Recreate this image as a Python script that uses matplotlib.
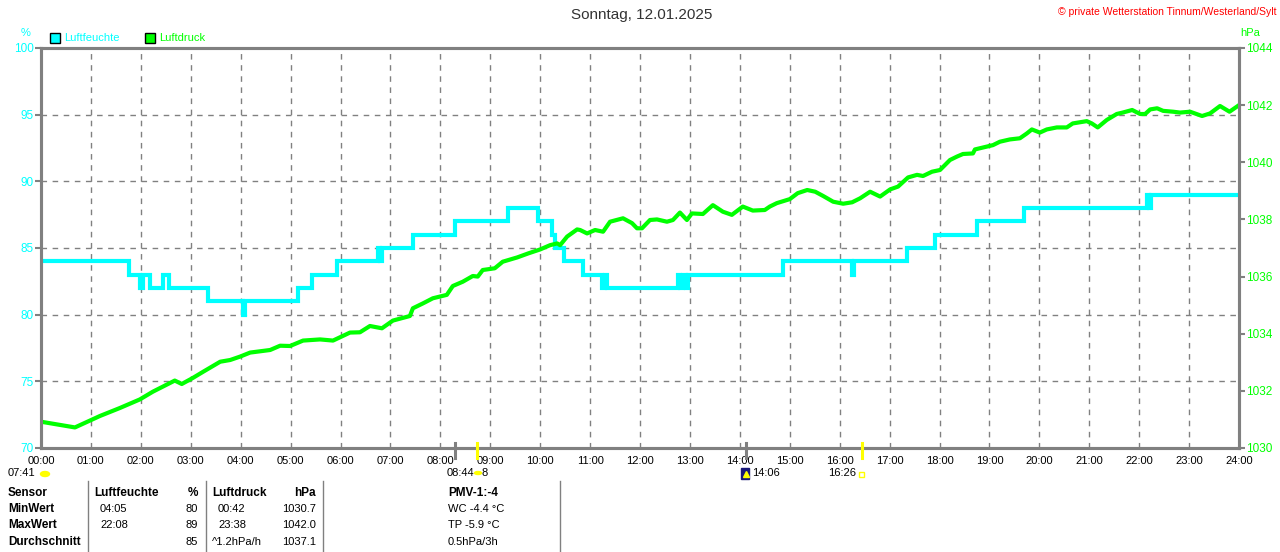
import matplotlib
matplotlib.use("Agg")
import matplotlib.pyplot as plt
from matplotlib.patches import Rectangle, Circle, Ellipse
from matplotlib.lines import Line2D

plt.rcParams['font.family'] = ['Liberation Sans', 'DejaVu Sans']

# Luftfeuchte (%), Stufen: Zeit in Stunden
hum_t = [0, 1.76, 1.98, 2.04, 2.19, 2.44, 2.56, 3.35, 4.05, 4.09,
         5.15, 5.43, 5.93, 6.75, 6.79, 6.83, 7.45, 8.29, 9.36, 9.96,
         10.24, 10.30, 10.48, 10.86, 11.24, 11.30, 11.34, 12.76, 12.80, 12.86,
         12.92, 12.96, 14.86, 16.25, 16.29, 17.35, 17.91, 18.75, 19.69, 22.16,
         22.20, 22.24, 24.0]
hum_v = [84, 83, 82, 83, 82, 83, 82, 81, 80, 81,
         82, 83, 84, 85, 84, 85, 86, 87, 88, 87,
         86, 85, 84, 83, 82, 83, 82, 83, 82, 83,
         82, 83, 84, 83, 84, 85, 86, 87, 88, 89,
         88, 89, 89]

# Luftdruck (hPa)
druck_t = [0.0, 0.68, 0.98, 1.18, 1.58, 1.98, 2.24, 2.68, 2.82, 3.04,
           3.25, 3.59, 3.79, 3.99, 4.19, 4.59, 4.79, 4.99, 5.25, 5.59,
           5.85, 6.19, 6.39, 6.59, 6.83, 7.05, 7.39, 7.45, 7.65, 7.85,
           8.13, 8.25, 8.45, 8.65, 8.75, 8.85, 9.09, 9.25, 9.54, 9.76,
           10.0, 10.2, 10.34, 10.4, 10.54, 10.74, 10.8, 10.94, 11.1, 11.26,
           11.4, 11.66, 11.84, 11.94, 12.04, 12.2, 12.34, 12.54, 12.66, 12.8,
           12.94, 13.04, 13.26, 13.46, 13.66, 13.84, 14.06, 14.26, 14.5, 14.6,
           14.74, 15.0, 15.16, 15.35, 15.51, 15.67, 15.87, 16.07, 16.25, 16.41,
           16.61, 16.81, 17.01, 17.17, 17.37, 17.55, 17.67, 17.85, 18.01, 18.21,
           18.35, 18.47, 18.67, 18.71, 18.95, 19.07, 19.21, 19.41, 19.61, 19.75,
           19.85, 20.01, 20.15, 20.35, 20.55, 20.67, 20.95, 21.05, 21.17, 21.35,
           21.55, 21.67, 21.86, 22.02, 22.12, 22.22, 22.36, 22.48, 22.68, 22.82,
           23.02, 23.26, 23.42, 23.62, 23.81, 24.0]
druck_v = [1030.92, 1030.72, 1030.96, 1031.12, 1031.4, 1031.7, 1031.97, 1032.36, 1032.24, 1032.45,
           1032.67, 1033.02, 1033.08, 1033.2, 1033.34, 1033.43, 1033.58, 1033.57, 1033.76, 1033.8,
           1033.76, 1034.04, 1034.05, 1034.27, 1034.19, 1034.46, 1034.62, 1034.89, 1035.06, 1035.24,
           1035.36, 1035.67, 1035.82, 1036.02, 1036.0, 1036.23, 1036.29, 1036.52, 1036.67, 1036.81,
           1036.95, 1037.1, 1037.16, 1037.1, 1037.4, 1037.65, 1037.63, 1037.51, 1037.63, 1037.57,
           1037.92, 1038.04, 1037.87, 1037.69, 1037.69, 1037.98, 1038.0, 1037.92, 1037.98, 1038.24,
           1037.98, 1038.21, 1038.19, 1038.5, 1038.27, 1038.16, 1038.45, 1038.31, 1038.33, 1038.45,
           1038.57, 1038.71, 1038.92, 1039.03, 1038.97, 1038.82, 1038.62, 1038.55, 1038.6, 1038.74,
           1038.97, 1038.8, 1039.05, 1039.15, 1039.47, 1039.56, 1039.52, 1039.67, 1039.73, 1040.08,
           1040.2, 1040.29, 1040.31, 1040.45, 1040.55, 1040.6, 1040.72, 1040.8, 1040.84, 1041.01,
           1041.15, 1041.04, 1041.15, 1041.22, 1041.22, 1041.36, 1041.44, 1041.36, 1041.22, 1041.48,
           1041.69, 1041.74, 1041.83, 1041.69, 1041.69, 1041.85, 1041.89, 1041.8, 1041.77, 1041.74,
           1041.77, 1041.62, 1041.71, 1041.97, 1041.77, 1042.0]

stunden = list(range(0, 25))
stunden_labels = ["%02d:00" % h for h in stunden]
hum_ticks = [70, 75, 80, 85, 90, 95, 100]
druck_ticks = [1030, 1032, 1034, 1036, 1038, 1040, 1042, 1044]

tabelle_kopf = ["Sensor", "Luftfeuchte", "%", "Luftdruck", "hPa", "PMV-1:-4"]
tabelle_zeilen = [
    ["MinWert", "04:05", "80", "00:42", "1030.7", "WC -4.4 °C"],
    ["MaxWert", "22:08", "89", "23:38", "1042.0", "TP -5.9 °C"],
    ["Durchschnitt", "", "85", "^1.2hPa/h", "1037.1", "0.5hPa/3h"],
]

CYAN = "#00ffff"
GRUEN = "#00ff00"
GRAU = "#808080"

W, H = 1280, 552


def fx(px):
    return px / W


def fy(py):
    return 1 - py / H


fig = plt.figure(figsize=(12.8, 5.52), dpi=100)
ax = fig.add_axes([fx(41), fy(448), (1239 - 41) / W, 400 / H])
ax2 = ax.twinx()

ax.step(hum_t, hum_v, where='post', color=CYAN, lw=3, solid_joinstyle='miter')
ax2.plot(druck_t, druck_v, color=GRUEN, lw=3)

ax.set_xlim(0, 24)
ax.set_ylim(70, 100)
ax2.set_ylim(1030, 1044)
ax.set_xticks(stunden)
ax.set_xticklabels(stunden_labels)
ax.set_yticks(hum_ticks)
ax2.set_yticks(druck_ticks)

ax.grid(True, color=GRAU, linestyle=(0, (4, 4)), linewidth=1)
for s in ax.spines.values():
    s.set_color(GRAU)
    s.set_linewidth(2.2)
for s in ax2.spines.values():
    s.set_color(GRAU)
    s.set_linewidth(2.2)

ax.tick_params(axis='x', length=0, pad=6, labelsize=8, labelcolor='black')
ax.tick_params(axis='y', length=4, width=1.5, color=GRAU, labelcolor=CYAN, labelsize=8.5, pad=1)
ax2.tick_params(axis='y', length=4, width=1.5, color=GRAU, labelcolor=GRUEN, labelsize=8.5, pad=1)

# Titel und Beschriftungen
fig.text(fx(642), fy(15), "Sonntag, 12.01.2025", ha='center', va='center', fontsize=11, color='#333333')
fig.text(fx(1276), fy(12), "© private Wetterstation Tinnum/Westerland/Sylt", ha='right', va='center',
         fontsize=7.5, color='red')
fig.text(fx(26), fy(33), "%", ha='center', va='center', fontsize=8, color=CYAN)
fig.text(fx(1250), fy(33), "hPa", ha='center', va='center', fontsize=8, color=GRUEN)

# Legende
fig.add_artist(Rectangle((fx(50), fy(43)), 10 / W, 10 / H, transform=fig.transFigure,
                         facecolor=CYAN, edgecolor='black', lw=1))
fig.text(fx(64), fy(38), "Luftfeuchte", va='center', fontsize=8, color=CYAN)
fig.add_artist(Rectangle((fx(145), fy(43)), 10 / W, 10 / H, transform=fig.transFigure,
                         facecolor=GRUEN, edgecolor='black', lw=1))
fig.text(fx(159), fy(38), "Luftdruck", va='center', fontsize=8, color=GRUEN)

# Markierungen unter der Zeitachse
for x, c in [(455, GRAU), (746, GRAU), (477, 'yellow'), (862, 'yellow')]:
    fig.add_artist(Line2D([fx(x), fx(x)], [fy(443), fy(458)], transform=fig.transFigure, color=c, lw=2.2))

fig.text(fx(8), fy(473), "07:41", va='center', fontsize=8)
fig.add_artist(Ellipse((fx(45), fy(474)), 9 / W, 5 / H, transform=fig.transFigure, color='yellow'))
fig.text(fx(474), fy(473), "08:44", ha='right', va='center', fontsize=8)
fig.add_artist(Circle((fx(478), fy(473)), 3.5 / W, transform=fig.transFigure, color='yellow'))
fig.text(fx(482), fy(473), "8", va='center', fontsize=8)
fig.add_artist(Rectangle((fx(741), fy(479)), 8 / W, 11 / H, transform=fig.transFigure, color='#1a1a7a'))
fig.add_artist(Line2D([fx(746)], [fy(474)], transform=fig.transFigure, marker='^', color='yellow', ms=4))
fig.text(fx(752), fy(473), "14:06", va='center', fontsize=8)
fig.text(fx(856), fy(473), "16:26", ha='right', va='center', fontsize=8)
fig.add_artist(Rectangle((fx(859), fy(477)), 5 / W, 5 / H, transform=fig.transFigure,
                         facecolor='none', edgecolor='yellow', lw=1))

# Tabelle
for x in [88, 206, 323, 560]:
    fig.add_artist(Line2D([fx(x), fx(x)], [fy(481), fy(552)], transform=fig.transFigure, color=GRAU, lw=1))

spalten = [(8, 'left'), (94, 'left'), (198, 'right'), (212, 'left'), (316, 'right'), (448, 'left')]
zeilen_y = [493, 509, 525, 542]
for (x, ha), txt in zip(spalten, tabelle_kopf):
    fig.text(fx(x), fy(zeilen_y[0]), txt, ha=ha, va='center', fontsize=8.5, fontweight='bold')
einrueck = [0, 6, 0, 6, 0, 0]
for row, y in zip(tabelle_zeilen, zeilen_y[1:]):
    for i, ((x, ha), txt) in enumerate(zip(spalten, row)):
        wt = 'bold' if i == 0 else 'normal'
        xx = x + einrueck[i]
        if i == 3 and txt.startswith("^"):
            xx = x
        fig.text(fx(xx), fy(y), txt, ha=ha, va='center', fontsize=8.5 if i == 0 else 8, fontweight=wt)

fig.savefig("out.png", dpi=100)
